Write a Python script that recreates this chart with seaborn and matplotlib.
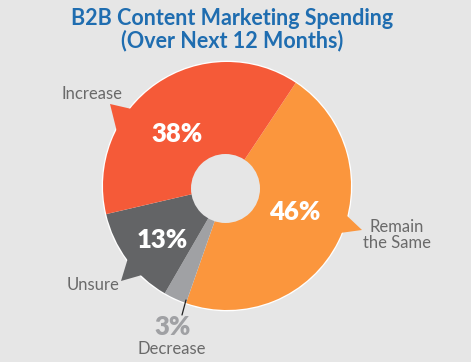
import matplotlib
matplotlib.use("Agg")
import matplotlib.pyplot as plt
import seaborn as sns
from matplotlib.patches import Polygon, Circle

# Data
categories = ["Remain the Same", "Decrease", "Unsure", "Increase"]
values = [46, 3, 13, 38]
pct_labels = ["46%", "3%", "13%", "38%"]
colors = ["#FB963D", "#A0A1A4", "#636466", "#F55A38"]
title = "B2B Content Marketing Spending\n(Over Next 12 Months)"

BG = "#E6E6E6"
sns.set_theme(style="white")
plt.rcParams["font.family"] = ["Lato", "DejaVu Sans"]

W, H = 471, 362
fig = plt.figure(figsize=(W / 100, H / 100), dpi=100, facecolor=BG)
ax = fig.add_axes([0, 0, 1, 1])
ax.set_facecolor(BG)

cx, cy, R = 227, H - 186, 124

# white outline behind pie
ax.add_patch(Circle((cx, cy), R + 1.3, facecolor="white", edgecolor="none", zorder=1))

wedges, _ = ax.pie(values, colors=colors, startangle=56.3, counterclock=False,
                   center=(cx, cy), radius=R, frame=True,
                   wedgeprops=dict(linewidth=0, edgecolor="none"))
for w in wedges:
    w.set_zorder(2)
ax.set_xlim(0, W)
ax.set_ylim(0, H)
ax.set_aspect("equal")
ax.axis("off")

# hole
ax.add_patch(Circle((225.5, H - 188.5), 34.5, facecolor=BG, edgecolor="none", zorder=3))

def P(pts):
    return [(x, H - y) for x, y in pts]

# callout tails
ax.add_patch(Polygon(P([(110, 104), (136, 110), (117, 132)]), closed=True,
                     facecolor=colors[3], edgecolor="none", zorder=2))
ax.add_patch(Polygon(P([(362, 230), (344, 213), (340, 233)]), closed=True,
                     facecolor=colors[0], edgecolor="none", zorder=2))
ax.add_patch(Polygon(P([(121, 281), (128, 258), (142, 275)]), closed=True,
                     facecolor=colors[2], edgecolor="none", zorder=2))
ax.plot([186, 182], [H - 300, H - 315], color="#222222", lw=0.9, zorder=4)

# percent labels
pct_pos = [(295, 212), (173, 327), (162, 240), (177, 134)]
pct_col = ["white", "#A0A1A4", "white", "white"]
for (x, y), t, c in zip(pct_pos, pct_labels, pct_col):
    ax.text(x, H - y, t, ha="center", va="center", fontsize=18.5,
            fontweight="heavy", color=c, zorder=5)

# category labels
lab_pos = [(397, 235), (172, 349), (93, 285), (92, 94)]
lab_text = ["Remain\nthe Same", "Decrease", "Unsure", "Increase"]
for (x, y), t in zip(lab_pos, lab_text):
    ax.text(x, H - y, t, ha="center", va="center", fontsize=12,
            color="#6A6A6A", linespacing=1.0, zorder=5)

ax.text(232, H - 30, title, ha="center", va="center", fontsize=15.5,
        fontweight="bold", color="#1F6DB0", linespacing=1.05, zorder=5)

fig.savefig("out.png", dpi=100, facecolor=BG)
